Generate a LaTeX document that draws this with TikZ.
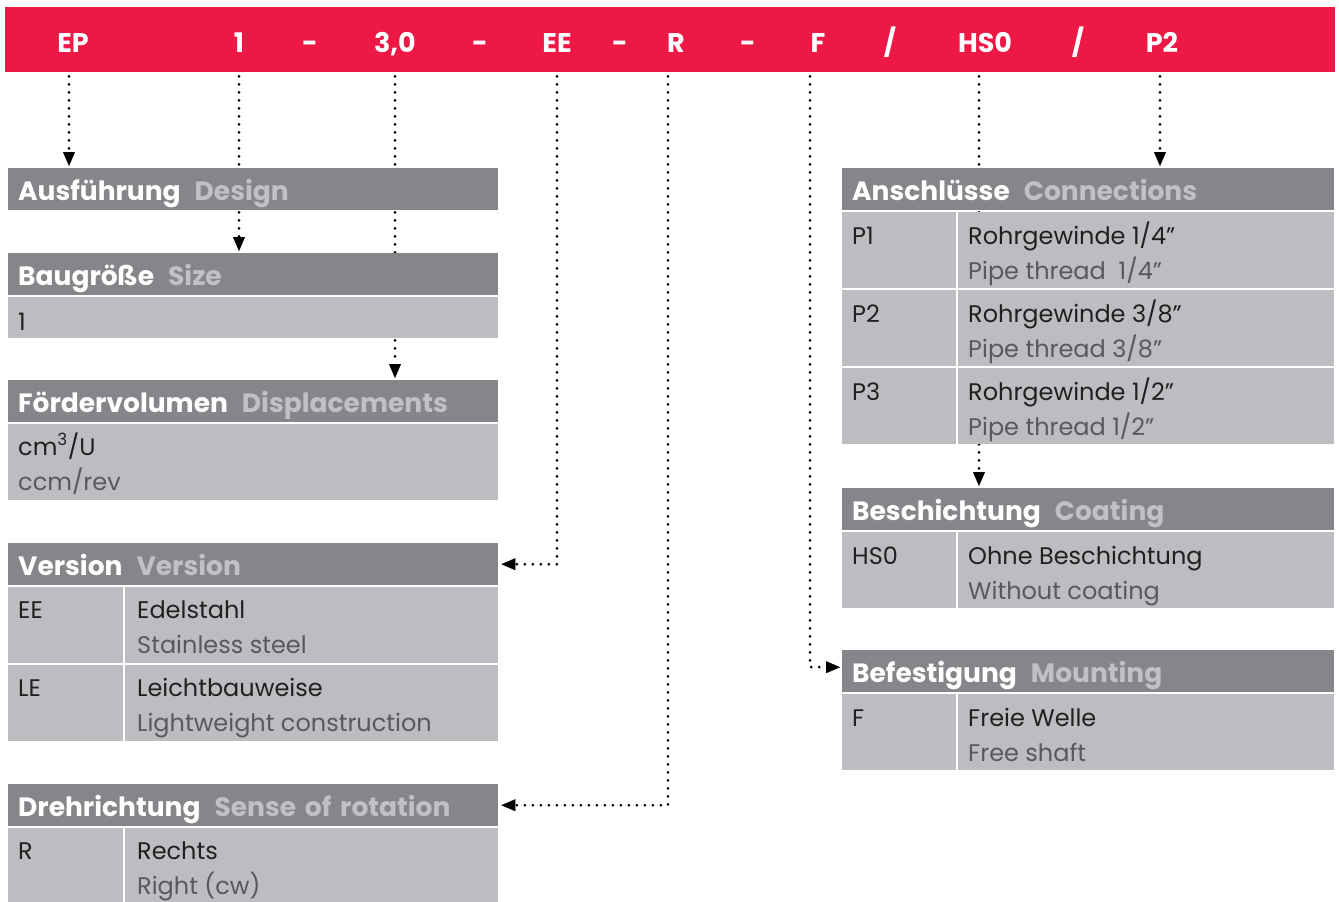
\documentclass[tikz,border=0pt]{standalone}
\usepackage{fontspec}
\setmainfont{Poppins}
\usetikzlibrary{arrows.meta}
\definecolor{codered}{RGB}{237,24,70}
\definecolor{headgray}{RGB}{133,134,138}
\definecolor{cellgray}{RGB}{188,189,192}
\definecolor{titlegray}{RGB}{192,193,196}
\definecolor{subgray}{RGB}{88,89,91}
\definecolor{maintext}{RGB}{35,31,32}
\pgfdeclarelayer{background}
\pgfsetlayers{background,main}
\tikzstyle{code}=[text=white, font=\fontsize{27}{30}\selectfont\bfseries, anchor=base, inner sep=0pt]
\tikzstyle{head}=[fill=headgray, anchor=north west, inner xsep=10pt, inner ysep=0pt, minimum height=42pt, text width=470pt, align=left, text height=22pt, text depth=0pt, font=\fontsize{26.5}{30}\selectfont\bfseries, text=white]
\tikzstyle{rhead}=[head, text width=472pt]
\tikzstyle{cell}=[fill=cellgray, anchor=north west, inner sep=0pt]
\tikzstyle{entry}=[anchor=base west, align=left, inner sep=0pt, text=maintext, font=\fontsize{24}{35}\selectfont]
\tikzstyle{conn}=[line width=3pt, line cap=round, dash pattern=on 0pt off 8pt, -{Triangle[length=14pt,width=12pt,line width=0.1pt]}]

\begin{document}
\begin{tikzpicture}[x=1pt, y=-1pt]
    \useasboundingbox (0,0) rectangle (1339,902);
    % type code
    \node[fill=codered, anchor=north west, minimum width=1330pt, minimum height=65pt, inner sep=0pt] (bar) at (5,7) {};
    \node[code] (cEP) at (73,52) {EP};
    \node[code] (c1) at (239,52) {1};
    \node[code] (s1) at (310,52) {-};
    \node[code] (c30) at (395,52) {3,0};
    \node[code] (s2) at (480,52) {-};
    \node[code] (cEE) at (557,52) {EE};
    \node[code] (s3) at (620,52) {-};
    \node[code] (cR) at (676,52) {R};
    \node[code] (s4) at (748,52) {-};
    \node[code] (cF) at (818,52) {F};
    \node[code] (s5) at (890,52) {/};
    \node[code] (cHS) at (985,52) {HS0};
    \node[code] (s6) at (1078,52) {/};
    \node[code] (cP2) at (1162,52) {P2};

    % left column
    \node[head] (hdA) at (8,168) {Ausführung\hspace{14pt}\textcolor{titlegray}{Design}};

    \node[head] (hdB) at (8,253) {Baugröße\hspace{14pt}\textcolor{titlegray}{Size}};
    \node[cell, minimum width=490pt, minimum height=41pt] (bdB) at (8,297) {};
    \node[entry] (tB) at (18,330) {1};

    \node[head] (hdC) at (8,380) {Fördervolumen\hspace{14pt}\textcolor{titlegray}{Displacements}};
    \node[cell, minimum width=490pt, minimum height=76pt] (bdC) at (8,424) {};
    \node[entry] (tC) at (18,490) {cm\textsuperscript{3}/U\\\textcolor{subgray}{ccm/rev}};

    \node[head] (hdD) at (8,543) {Version\hspace{14pt}\textcolor{titlegray}{Version}};
    \node[cell, minimum width=115pt, minimum height=76pt] (kEE) at (8,587) {};
    \node[cell, minimum width=373pt, minimum height=76pt] (dEE) at (125,587) {};
    \node[entry] (tkEE) at (18,618) {EE};
    \node[entry] (tdEE) at (137,653) {Edelstahl\\\textcolor{subgray}{Stainless steel}};
    \node[cell, minimum width=115pt, minimum height=76pt] (kLE) at (8,665) {};
    \node[cell, minimum width=373pt, minimum height=76pt] (dLE) at (125,665) {};
    \node[entry] (tkLE) at (18,696) {LE};
    \node[entry] (tdLE) at (137,731) {Leichtbauweise\\\textcolor{subgray}{Lightweight construction}};

    \node[head] (hdE) at (8,784) {Drehrichtung\hspace{14pt}\textcolor{titlegray}{Sense of rotation}};
    \node[cell, minimum width=115pt, minimum height=76pt] (kR) at (8,828) {};
    \node[cell, minimum width=373pt, minimum height=76pt] (dR) at (125,828) {};
    \node[entry] (tkR) at (18,859) {R};
    \node[entry] (tdR) at (137,894) {Rechts\\\textcolor{subgray}{Right (cw)}};

    % right column
    \node[rhead] (hdF) at (842,168) {Anschlüsse\hspace{14pt}\textcolor{titlegray}{Connections}};
    \node[cell, minimum width=114pt, minimum height=76pt] (kP1) at (842,212) {};
    \node[cell, minimum width=376pt, minimum height=76pt] (dP1) at (958,212) {};
    \node[entry] (tkP1) at (852,244) {P1};
    \node[entry] (tdP1) at (968,279) {Rohrgewinde 1/4”\\\textcolor{subgray}{Pipe thread\ \ 1/4”}};
    \node[cell, minimum width=114pt, minimum height=76pt] (kP2) at (842,290) {};
    \node[cell, minimum width=376pt, minimum height=76pt] (dP2) at (958,290) {};
    \node[entry] (tkP2) at (852,322) {P2};
    \node[entry] (tdP2) at (968,357) {Rohrgewinde 3/8”\\\textcolor{subgray}{Pipe thread 3/8”}};
    \node[cell, minimum width=114pt, minimum height=76pt] (kP3) at (842,368) {};
    \node[cell, minimum width=376pt, minimum height=76pt] (dP3) at (958,368) {};
    \node[entry] (tkP3) at (852,400) {P3};
    \node[entry] (tdP3) at (968,435) {Rohrgewinde 1/2”\\\textcolor{subgray}{Pipe thread 1/2”}};

    \node[rhead] (hdG) at (842,488) {Beschichtung\hspace{14pt}\textcolor{titlegray}{Coating}};
    \node[cell, minimum width=114pt, minimum height=76pt] (kHS) at (842,532) {};
    \node[cell, minimum width=376pt, minimum height=76pt] (dHS) at (958,532) {};
    \node[entry] (tkHS) at (852,564) {HS0};
    \node[entry] (tdHS) at (968,599) {Ohne Beschichtung\\\textcolor{subgray}{Without coating}};

    \node[rhead] (hdH) at (842,650) {Befestigung\hspace{14pt}\textcolor{titlegray}{Mounting}};
    \node[cell, minimum width=114pt, minimum height=76pt] (kF) at (842,694) {};
    \node[cell, minimum width=376pt, minimum height=76pt] (dF) at (958,694) {};
    \node[entry] (tkF) at (852,726) {F};
    \node[entry] (tdF) at (968,761) {Freie Welle\\\textcolor{subgray}{Free shaft}};

    % dotted leaders, behind the boxes
    \begin{pgfonlayer}{background}
        \draw[conn] ([xshift=-4pt, yshift=-4pt]cEP |- bar.south) -- ([xshift=-4pt, yshift=2pt]cEP |- hdA.north);
        \draw[conn] ([yshift=-4pt]c1 |- bar.south) -- ([yshift=2pt]c1 |- hdB.north);
        \draw[conn] ([yshift=-4pt]c30 |- bar.south) -- ([yshift=2pt]c30 |- hdC.north);
        \draw[conn] ([yshift=-4pt]cEE |- bar.south) |- ([xshift=3pt]hdD.east);
        \draw[conn] ([xshift=-8pt, yshift=-4pt]cR |- bar.south) |- ([xshift=3pt]hdE.east);
        \draw[conn] ([xshift=-8pt, yshift=-4pt]cF |- bar.south) |- ([xshift=-2pt, yshift=4pt]hdH.west);
        \draw[conn] ([xshift=-6pt, yshift=-4pt]cHS |- bar.south) -- ([xshift=-6pt, yshift=2pt]cHS |- hdG.north);
        \draw[conn] ([xshift=-2pt, yshift=-4pt]cP2 |- bar.south) -- ([xshift=-2pt, yshift=2pt]cP2 |- hdF.north);
    \end{pgfonlayer}
\end{tikzpicture}
\end{document}
